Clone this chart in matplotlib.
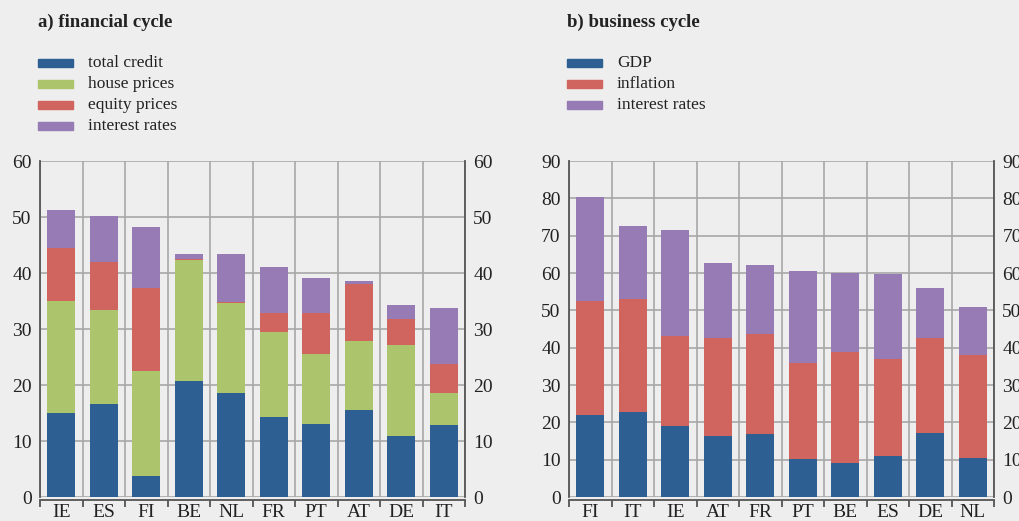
import matplotlib.pyplot as plt
from matplotlib.patches import Rectangle
import numpy as np

plt.rcParams['font.family'] = ['Liberation Serif', 'DejaVu Serif']

# panel a) financial cycle
fin_countries = ["IE", "ES", "FI", "BE", "NL", "FR", "PT", "AT", "DE", "IT"]
fin_credit = [15.0, 16.6, 3.7, 20.7, 18.5, 14.2, 13.0, 15.5, 10.9, 12.8]
fin_house = [20.0, 16.8, 18.8, 21.6, 16.2, 15.3, 12.5, 12.3, 16.2, 5.7]
fin_equity = [9.5, 8.6, 14.9, 0.2, 0.2, 3.3, 7.3, 10.3, 4.7, 5.3]
fin_rates = [6.8, 8.2, 10.8, 0.9, 8.5, 8.3, 6.3, 0.5, 2.5, 9.9]

# panel b) business cycle
bus_countries = ["FI", "IT", "IE", "AT", "FR", "PT", "BE", "ES", "DE", "NL"]
bus_gdp = [21.9, 22.7, 18.9, 16.3, 16.8, 10.1, 9.0, 10.9, 17.1, 10.4]
bus_infl = [30.6, 30.3, 24.3, 26.3, 26.9, 25.7, 29.9, 26.0, 25.5, 27.6]
bus_rates = [27.8, 19.6, 28.3, 20.0, 18.4, 24.7, 21.1, 22.8, 13.3, 12.8]

blue = "#2E5F93"
green = "#ACC46B"
red = "#D0645E"
purple = "#967BB4"
bg = "#EDEEED"

fig = plt.figure(figsize=(10.2, 5.21), dpi=100, facecolor=bg)


def stacked(ax, countries, series, colors, ymax):
    x = np.arange(len(countries))
    bottom = np.zeros(len(countries))
    for vals, c in zip(series, colors):
        ax.bar(x, vals, bottom=bottom, width=0.67, color=c, zorder=3)
        bottom += np.array(vals)
    ax.set_facecolor(bg)
    ax.set_xlim(-0.5, len(countries) - 0.5)
    ax.set_ylim(0, ymax)
    ax.set_yticks(np.arange(0, ymax + 1, 10))
    ax.set_xticks(x)
    ax.set_xticklabels(countries)
    ax.set_xticks(np.arange(-0.5, len(countries)), minor=True)
    ax.grid(axis="y", color="#A8A8A8", lw=1.2, zorder=0)
    ax.grid(axis="x", which="minor", color="#A8A8A8", lw=1.2, zorder=0)
    ax.tick_params(axis="x", which="major", length=0, labelsize=14, pad=3, colors="#222222")
    ax.tick_params(axis="x", which="minor", length=5, width=1.3, color="#555555")
    ax.tick_params(axis="y", length=0, labelsize=14, pad=6, colors="#222222",
                   left=True, right=True, labelleft=True, labelright=True)
    for s in ["left", "right", "bottom"]:
        ax.spines[s].set_color("#555555")
        ax.spines[s].set_linewidth(1.3)
    ax.spines["bottom"].set_position(("outward", 2))
    ax.spines["top"].set_visible(False)


ax1 = fig.add_axes([40 / 1020, 1 - 497 / 521, 425 / 1020, 336 / 521])
stacked(ax1, fin_countries, [fin_credit, fin_house, fin_equity, fin_rates],
        [blue, green, red, purple], 60)

ax2 = fig.add_axes([569 / 1020, 1 - 497 / 521, 425 / 1020, 336 / 521])
stacked(ax2, bus_countries, [bus_gdp, bus_infl, bus_rates],
        [blue, red, purple], 90)

# titles and legends
fig.text(38 / 1020, 1 - 22 / 521, "a) financial cycle", fontsize=13.5,
         fontweight="bold", va="center", color="#222222")
fig.text(567 / 1020, 1 - 22 / 521, "b) business cycle", fontsize=13.5,
         fontweight="bold", va="center", color="#222222")


def legend(x0, labels, colors):
    for i, (lab, c) in enumerate(zip(labels, colors)):
        yc = 63 + i * 21
        fig.add_artist(Rectangle((x0 / 1020, 1 - (yc + 4) / 521), 35 / 1020, 8 / 521,
                                 transform=fig.transFigure, color=c))
        fig.text((x0 + 50) / 1020, 1 - yc / 521, lab, fontsize=12.5,
                 va="center", color="#222222")


legend(38, ["total credit", "house prices", "equity prices", "interest rates"],
       [blue, green, red, purple])
legend(567, ["GDP", "inflation", "interest rates"], [blue, red, purple])

fig.savefig("out.png", dpi=100, facecolor=bg)
